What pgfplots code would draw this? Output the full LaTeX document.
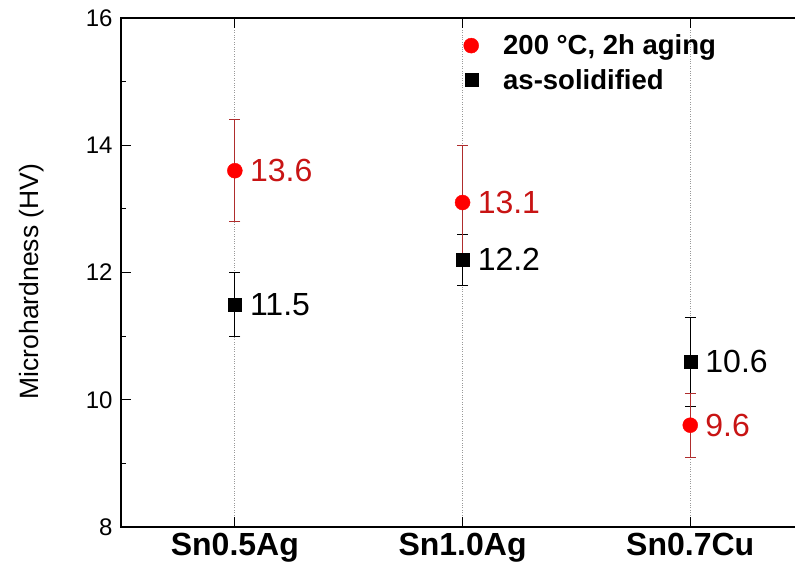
\documentclass[border=0pt]{standalone}
\usepackage{fontspec}
\setmainfont{Liberation Sans}
\usepackage{pgfplots}
\pgfplotsset{compat=1.18}
\definecolor{mkred}{RGB}{255,0,0}
\definecolor{lblred}{RGB}{200,20,20}
\definecolor{errred}{RGB}{175,45,45}
\begin{document}
\begin{tikzpicture}
\useasboundingbox (0,0) rectangle (795pt,573pt);
\begin{axis}[
  at={(121pt,46pt)}, anchor=south west,
  scale only axis, width=679pt, height=509pt,
  xmin=-0.5, xmax=2.482, ymin=8, ymax=16,
  clip=false,
  axis line style={line width=1.5pt},
  tick align=inside,
  major tick length=10pt, minor tick length=5pt,
  every tick/.style={black, line width=1.2pt},
  xtick={0,1,2}, xticklabels={Sn0.5Ag,Sn1.0Ag,Sn0.7Cu},
  xtick pos=both, ytick pos=left,
  ytick={8,10,12,14,16}, minor ytick={9,11,13,15},
  /pgf/number format/assume math mode=true,
  xticklabel style={font=\bfseries\fontsize{32}{38}\selectfont, yshift=-3pt},
  yticklabel style={font=\fontsize{24}{29}\selectfont, xshift=-5pt},
  xmajorgrids, grid style={dotted, gray!80, line width=0.8pt},
  ylabel={Microhardness (HV)},
  every axis y label/.style={at={(axis description cs:-0.131,0.482)}, rotate=90, anchor=center, font=\fontsize{26.5}{32}\selectfont},
  legend style={at={(axis description cs:0.5,0.975)}, anchor=north west, draw=none, fill=none, font=\bfseries\fontsize{27.5}{33}\selectfont, row sep=9pt},
  legend cell align=left,
  legend image code/.code={\path[draw=none] (-7pt,0pt) -- (30pt,0pt); \draw[#1] plot coordinates {(0pt,0pt)};},
  reverse legend,
  nodes near coords={\pgfmathprintnumber[fixed,fixed zerofill,precision=1,assume math mode=true]{\pgfplotspointmeta}},
  every node near coord/.append style={anchor=west, inner sep=0pt, xshift=15pt, font=\fontsize{32}{38}\selectfont},
]
\addplot[only marks, mark=square*, mark size=6.5pt, black,
  every node near coord/.append style={black},
  error bars/.cd, y dir=both, y explicit,
  error bar style={black, line width=0.9pt},
  error mark options={rotate=90, mark size=5.5pt, black, line width=0.9pt}]
coordinates { (0,11.5) +- (0,0.5) (1,12.2) +- (0,0.4) (2,10.6) +- (0,0.7) };
\addlegendentry{as-solidified}
\addplot[only marks, mark=*, mark size=7.5pt, mkred,
  every node near coord/.append style={lblred},
  error bars/.cd, y dir=both, y explicit,
  error bar style={errred, line width=0.9pt},
  error mark options={rotate=90, mark size=5.5pt, errred, line width=0.9pt}]
coordinates { (0,13.6) +- (0,0.8) (1,13.1) +- (0,0.9) (2,9.6) +- (0,0.5) };
\addlegendentry{200 °C, 2h aging}
\end{axis}
\end{tikzpicture}
\end{document}
